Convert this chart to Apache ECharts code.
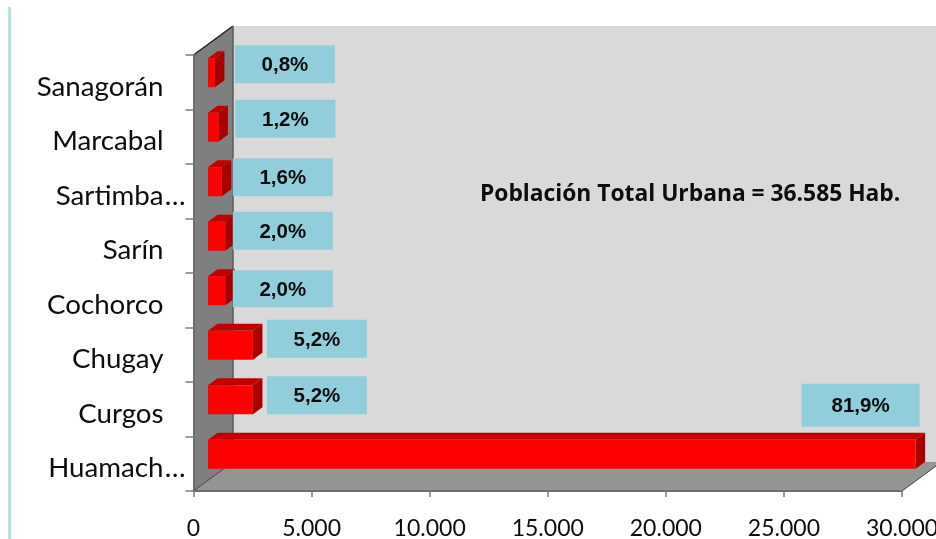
<!DOCTYPE html>
<html>
<head>
<meta charset="utf-8">
<style>
html, body { margin: 0; padding: 0; background: #fff; overflow: hidden; }
#chart { width: 936px; height: 539px; }
</style>
<script src="https://cdn.jsdelivr.net/npm/echarts@6/dist/echarts.min.js"></script>
</head>
<body>
<div id="chart"></div>
<script>
// de abajo hacia arriba
var categories = ["Huamachuco", "Curgos", "Chugay", "Cochorco", "Sarín", "Sartimbamba", "Marcabal", "Sanagorán"];
var shownNames = ["Huamach", "Curgos", "Chugay", "Cochorco", "Sarín", "Sartimba", "Marcabal", "Sanagorán"];
var cutNames = [true, false, false, false, false, true, false, false];
var population = [29963, 1902, 1902, 732, 732, 585, 439, 293];
var percents = ["81,9%", "5,2%", "5,2%", "2,0%", "2,0%", "1,6%", "1,2%", "0,8%"];
var xTicks = [0, 5000, 10000, 15000, 20000, 25000, 30000];

// caja de cada porcentaje respecto al extremo de la barra: dx, dy, ancho, alto
var labelBoxes = [
	[-114, -56, 118, 43],
	[14, -9, 100, 38],
	[14, -11, 100, 38],
	[7.5, -6, 100, 37],
	[7.5, -10, 100, 38],
	[11, -9, 100, 38],
	[17, -13, 100, 38],
	[20, -13, 100, 38]
];

var FONT = "Lato";
var depth = { x: 39.5, y: -29 };
var barShift = { x: 14.5, y: -9.5 };
var barDepth = { x: 9.5, y: -7 };
var barHeight = 29;

var myChart = echarts.init(document.getElementById("chart"), null, { renderer: "canvas" });

function poly(points, fill, stroke) {
	return {
		type: "polygon",
		shape: { points: points },
		style: { fill: fill, stroke: stroke || null, lineWidth: stroke ? 1.5 : 0 }
	};
}

// paredes y piso del gráfico 3D
function renderWalls(params) {
	var g = params.coordSys;
	var l = g.x, r = g.x + g.width, t = g.y, b = g.y + g.height;
	var dx = depth.x, dy = depth.y;
	return {
		type: "group",
		children: [
			poly([[l + dx, t + dy], [r + dx, t + dy], [r + dx, b + dy], [l + dx, b + dy]], "#D9D9D9"),
			poly([[l, b], [l + dx, b + dy], [r + dx, b + dy], [r, b]], "#949494"),
			poly([[l, t], [l + dx, t + dy], [l + dx, b + dy], [l, b]], "#7F7F7F"),
			{ type: "line", shape: { x1: l, y1: t, x2: l + dx, y2: t + dy }, style: { stroke: "#222", lineWidth: 1.5 } },
			{ type: "line", shape: { x1: l, y1: b, x2: l + dx, y2: b + dy }, style: { stroke: "#444", lineWidth: 1 } },
			{ type: "line", shape: { x1: l + dx, y1: t + dy, x2: l + dx, y2: b + dy }, style: { stroke: "#5a5a5a", lineWidth: 1.5 } },
			{ type: "line", shape: { x1: r, y1: b, x2: r + dx, y2: b + dy }, style: { stroke: "#444", lineWidth: 1 } }
		]
	};
}

function renderBar(params, api) {
	var i = api.value(1);
	var p0 = api.coord([0, i]);
	var p1 = api.coord([api.value(0), i]);
	var x0 = p0[0] + barShift.x;
	var x1 = p1[0] + barShift.x;
	var top = p0[1] + barShift.y - barHeight / 2;
	var bottom = top + barHeight;
	var dx = barDepth.x, dy = barDepth.y;
	var box = labelBoxes[i];
	var bx = x1 + box[0], by = top + box[1];
	return {
		type: "group",
		children: [
			poly([[x0, top], [x0 + dx, top + dy], [x1 + dx, top + dy], [x1, top]], "#C00000"),
			poly([[x1, top], [x1 + dx, top + dy], [x1 + dx, bottom + dy], [x1, bottom]], "#A80000"),
			{ type: "rect", shape: { x: x0, y: top, width: x1 - x0, height: barHeight }, style: { fill: "#FF0000" } },
			{ type: "rect", shape: { x: bx, y: by, width: box[2], height: box[3] }, style: { fill: "#92CDDC" } },
			{
				type: "text",
				style: {
					x: bx + box[2] / 2,
					y: by + box[3] / 2 + 1.5,
					text: percents[i],
					fill: "#0d0d0d",
					font: "bold 20.5px 'Liberation Sans'",
					align: "center",
					verticalAlign: "middle"
				}
			}
		]
	};
}

var option = {
	animation: false,
	backgroundColor: "#fff",
	grid: { left: 193.5, right: 34, top: 55, bottom: 48, outerBoundsMode: "none" },
	xAxis: {
		type: "value",
		min: 0,
		max: 30000,
		interval: 5000,
		z: 3,
		splitLine: { show: false },
		axisLine: { show: true, lineStyle: { color: "#6e6e6e", width: 2 } },
		axisTick: { show: true, length: 6, lineStyle: { color: "#7f7f7f", width: 1.5 } },
		axisLabel: {
			margin: 26,
			color: "#0d0d0d",
			fontFamily: FONT,
			fontSize: 23,
			hideOverlap: false,
			showMaxLabel: true,
			formatter: function (v) {
				return xTicks.indexOf(v) < 0 ? "" : String(v).replace(/\B(?=(\d{3})+$)/g, ".");
			}
		}
	},
	yAxis: {
		type: "category",
		data: categories,
		z: 3,
		axisLine: { show: true, lineStyle: { color: "#6e6e6e", width: 2 } },
		axisTick: { show: true, length: 8, lineStyle: { color: "#7f7f7f", width: 1.5 } },
		axisLabel: {
			margin: 8,
			interval: 0,
			formatter: function (v) {
				var i = categories.indexOf(v);
				return "{n|" + shownNames[i] + "}" + (cutNames[i] ? "{e|…}" : "{p|}");
			},
			rich: {
				n: { color: "#0d0d0d", fontFamily: FONT, fontSize: 27.7, padding: [9, 0, 0, 0] },
				e: { color: "#0d0d0d", fontFamily: FONT, fontSize: 27.7, width: 22, align: "right", padding: [9, 0, 0, 0] },
				p: { width: 22 }
			}
		}
	},
	series: [
		{
			type: "custom",
			name: "paredes",
			z: 1,
			silent: true,
			clip: false,
			renderItem: renderWalls,
			data: [[0, 0]]
		},
		{
			type: "custom",
			name: "Población",
			z: 2,
			clip: false,
			encode: { x: 0, y: 1 },
			renderItem: renderBar,
			data: population.map(function (v, i) { return [v, i]; })
		}
	],
	graphic: [
		{ type: "rect", left: 8, top: 7, shape: { width: 3, height: 532 }, style: { fill: "#B7DEE8" } },
		{
			type: "text",
			left: 480,
			top: 183,
			z: 10,
			style: { text: "Población Total Urbana = 36.585 Hab.", fill: "#0d0d0d", font: "bold 22.8px 'Open Sans'" }
		}
	]
};
myChart.setOption(option);
window.addEventListener("resize", myChart.resize);
</script>
</body>
</html>
